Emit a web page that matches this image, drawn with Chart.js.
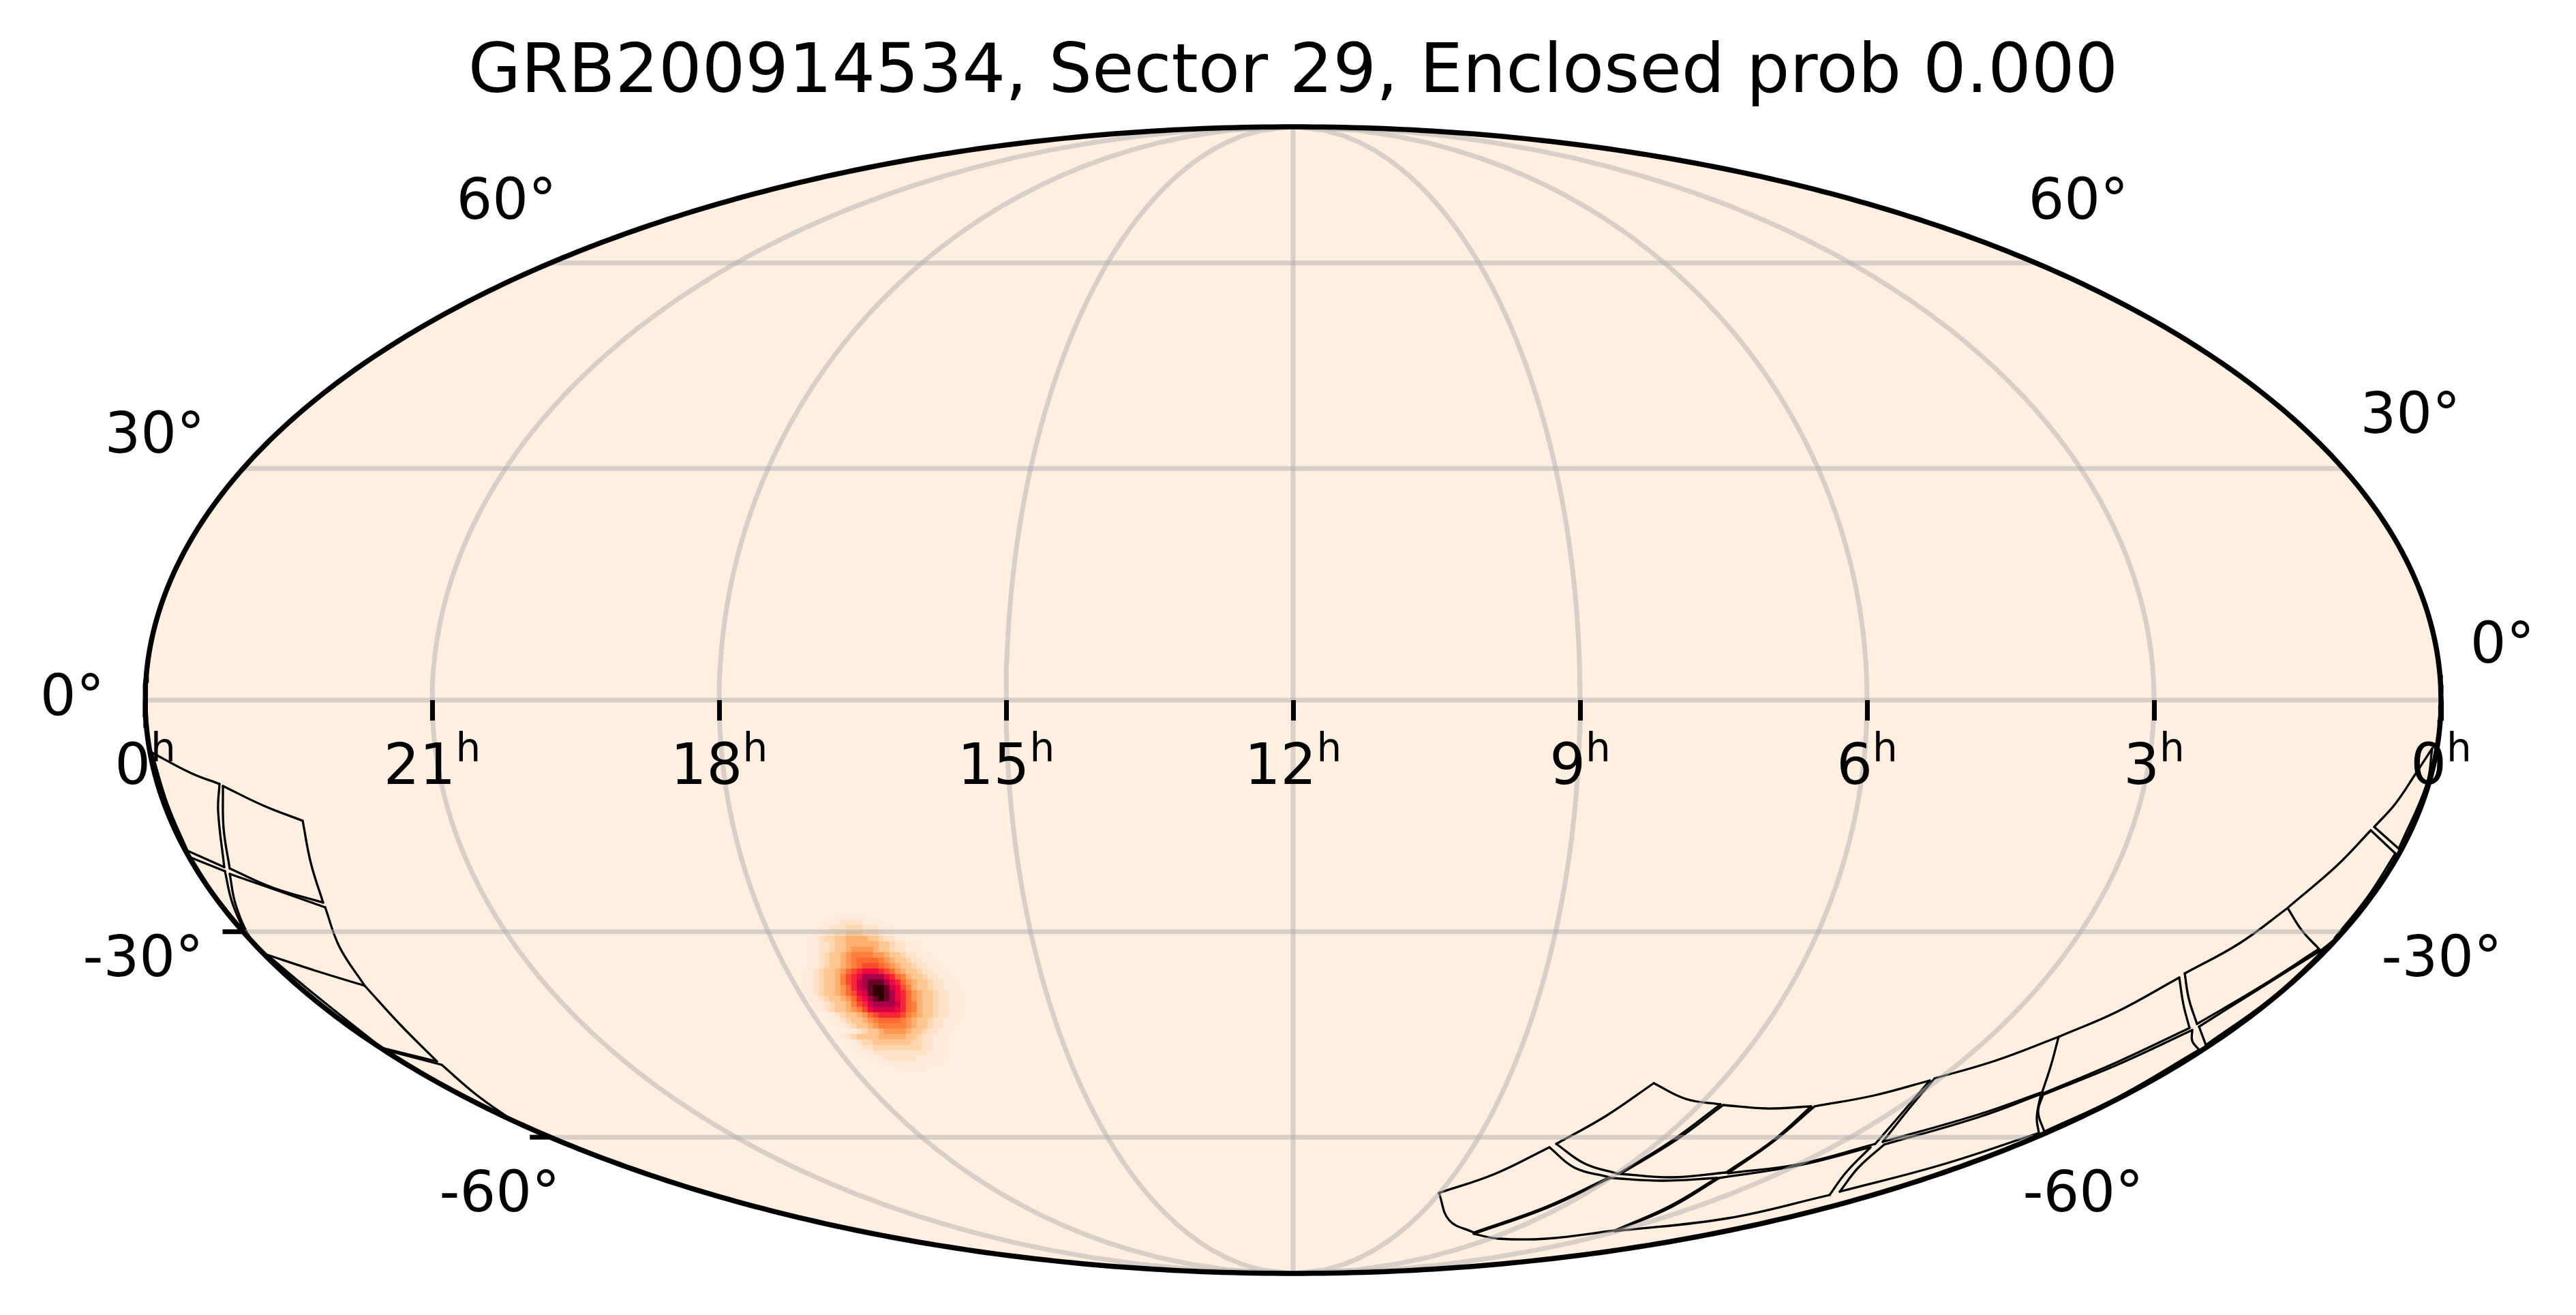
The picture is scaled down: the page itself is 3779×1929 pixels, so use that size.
<!DOCTYPE html>
<html>
<head>
<meta charset="utf-8">
<title>GRB200914534</title>
<script src="https://cdn.jsdelivr.net/npm/chart.js@4/dist/chart.umd.min.js"></script>
<style>
    html, body { margin: 0; padding: 0; background: #fff; }
    canvas { display: block; }
</style>
</head>
<body>
<canvas id="sky" width="3779" height="1929" style="width:3779px;height:1929px"></canvas>
<script>
const titleText = "GRB200914534, Sector 29, Enclosed prob 0.000";

// hour ticks on the equator, left to right
const tickHours = [24, 21, 18, 15, 12, 9, 6, 3, 0];
const hourLabels = ["0", "21", "18", "15", "12", "9", "6", "3", "0"];

// graticule
const meridianHours = [21, 18, 15, 12, 9, 6, 3];
const parallelLats = [60, 30, 0, -30, -60];
const leftTickLats = [-30, -60];

// declination labels, in plot units of the two axes
const decLabels = ["60°", "60°", "30°", "30°", "0°", "0°", "-30°", "-30°", "-60°", "-60°"];
const decLabelX = [-1154, 1152, -1670, 1639, -1791, 1774, -1687, 1685, -1164, 1159];
const decLabelY = [728, 728, 385, 414, 0, 77, -383, -383, -728, -728];

// probability map, one char per cell, index into heatColors
const heatColors = ["", "#ffebdb", "#fee3ca", "#fed7b0", "#fec690", "#feb070", "#fe9752", "#fd7f3c",
    "#fb6a30", "#f94a30", "#f82438", "#f00842", "#d30048", "#a8004a", "#6a0024", "#300000"];
const heatRows = [
    "000000000000000000000000000000000000",
    "000000000011111100000000000000000000",
    "000000001112222111100000000000000000",
    "000000011222333222111000000000000000",
    "000000112233444333211100000000000000",
    "000001123344555544322110000000000000",
    "000001122344555555443221110000000000",
    "000001122344566665443221110000000000",
    "000001123445677776654432211100000000",
    "000001123445678888765443221110000000",
    "000001123445678999876544322111000000",
    "00001123445689abbba98654432211100000",
    "0000112344579abddddba875443221110000",
    "0000112344579acdeeedba86544322111000",
    "0000112344568acdeffecb97544322111000",
    "00001123445689bceffedba8654432211100",
    "00000112344568abdefedba8654432211100",
    "000000112344579acddddca8754432211100",
    "0000001123445679bccccba8754432211100",
    "000000001123445689aaaa97654432211100",
    "00000000011234456788887654432211100",
    "00000000001123445677777654432211100",
    "00000000000011234456666544322111000",
    "00000000001123444455555443221110000",
    "00000000000011233444444433221110000",
    "00000000000001122333333333221110000",
    "00000000000000111222222222211110000",
    "00000000000000001112222221111110000",
    "00000000000000000011111111111100000",
    "00000000000000000000011111100000000",
    "000000000000000000000000000000000000"
];

// camera outlines, every edge is a short run of [x, y] in plot units
const leftCcdEdges = [
    [[-1676, -76], [-1617, -107], [-1575, -123]],
    [[-1575, -123], [-1577, -163], [-1568, -245]],
    [[-1568, -245], [-1622, -221]],
    [[-1622, -221], [-1651, -153], [-1673, -81]],

    [[-1570, -126], [-1510, -155], [-1453, -177]],
    [[-1453, -177], [-1441, -239], [-1423, -297]],
    [[-1423, -297], [-1497, -275], [-1560, -247]],
    [[-1560, -247], [-1569, -188], [-1570, -126]],

    [[-1617, -231], [-1567, -251]],
    [[-1567, -251], [-1557, -295], [-1539, -339]],
    [[-1539, -339], [-1582, -285], [-1617, -231]],

    [[-1560, -255], [-1488, -280], [-1420, -304]],
    [[-1420, -304], [-1399, -362], [-1362, -419]],
    [[-1362, -419], [-1434, -397], [-1507, -373]],
    [[-1507, -373], [-1528, -352], [-1551, -301], [-1560, -255]],

    [[-1362, -419], [-1309, -477], [-1256, -530]],
    [[-1256, -530], [-1337, -510]],
    [[-1337, -510], [-1434, -433], [-1501, -377]],

    [[-1337, -512], [-1249, -535]],
    [[-1249, -535], [-1198, -579], [-1149, -614]],
    [[-1149, -614], [-1242, -568], [-1337, -512]]
];
const rightCcdEdges = [
    [[529, -562], [576, -585], [627, -593]],
    [[627, -593], [556, -646], [477, -695]],
    [[477, -695], [428, -680], [386, -651]],
    [[386, -651], [459, -610], [529, -562]],

    [[631, -594], [694, -599], [760, -596]],
    [[760, -596], [704, -646], [635, -693]],
    [[635, -693], [556, -700], [480, -695]],
    [[480, -695], [561, -646], [631, -594]],

    [[765, -596], [852, -580], [934, -558]],
    [[934, -558], [893, -606], [854, -651]],
    [[854, -651], [740, -681], [638, -694]],
    [[638, -694], [704, -648], [765, -596]],

    [[214, -723], [296, -695], [376, -656]],
    [[376, -656], [413, -686], [464, -700]],
    [[464, -700], [372, -743], [265, -781]],
    [[265, -781], [229, -763], [214, -723]],

    [[465, -701], [541, -705], [622, -701]],
    [[622, -701], [551, -743], [472, -778]],
    [[472, -778], [372, -790], [301, -790], [265, -783]],
    [[265, -783], [372, -745], [465, -701]],

    [[625, -701], [740, -683], [847, -656]],
    [[847, -656], [811, -693], [787, -726]],
    [[787, -726], [638, -760], [472, -779]],
    [[472, -779], [556, -743], [625, -701]],

    [[941, -555], [1030, -529], [1123, -494]],
    [[1123, -494], [1112, -535], [1099, -575]],
    [[1099, -575], [1005, -608], [865, -648]],
    [[865, -648], [903, -600], [941, -555]],

    [[867, -652], [1005, -612], [1097, -578]],
    [[1097, -578], [1091, -612], [1094, -635]],
    [[1094, -635], [950, -682], [802, -721]],
    [[802, -721], [829, -686], [867, -652]],

    [[1123, -494], [1209, -457], [1300, -407]],
    [[1300, -407], [1306, -446], [1315, -481]],
    [[1315, -481], [1209, -531], [1100, -577]],

    [[1100, -579], [1209, -535], [1319, -484]],
    [[1319, -484], [1319, -500], [1329, -513]],
    [[1329, -513], [1209, -583], [1102, -633]],
    [[1102, -633], [1093, -604], [1100, -579]],

    [[1308, -401], [1388, -357], [1459, -305]],
    [[1459, -305], [1480, -338], [1505, -365]],
    [[1505, -365], [1418, -421], [1326, -475]],
    [[1326, -475], [1314, -438], [1308, -401]],

    [[1329, -479], [1418, -423], [1508, -367]],
    [[1508, -367], [1528, -351]],
    [[1528, -351], [1439, -434], [1339, -506]],
    [[1339, -506], [1329, -479]],

    [[1461, -303], [1531, -243], [1581, -191]],
    [[1581, -191], [1617, -225]],
    [[1617, -225], [1576, -289], [1528, -349]],

    [[1586, -186], [1617, -152], [1648, -106], [1671, -71]],
    [[1671, -71], [1663, -123], [1622, -218]],
    [[1622, -218], [1586, -186]]
];

// axes run in plot units, half width and half height of the ellipse
const halfW = 1684;
const halfH = 841;
const heatStep = 8;
const heatLeft = -752;
const heatTop = -306;

function molly(lonDeg, latDeg) {
    const lat = latDeg * Math.PI / 180;
    let t = lat;
    if (Math.abs(latDeg) < 90) {
        for (let i = 0; i < 30; i++) {
            t -= (2 * t + Math.sin(2 * t) - Math.PI * Math.sin(lat)) / (2 + 2 * Math.cos(2 * t));
        }
    }
    return { x: halfW * (lonDeg / 180) * Math.cos(t), y: halfH * Math.sin(t) };
}

function hourToLon(h) {
    return (12 - h) * 15;
}

function arcPoints(latFrom, latTo, lon) {
    const pts = [];
    for (let lat = latFrom; latFrom < latTo ? lat <= latTo : lat >= latTo; lat += latFrom < latTo ? 2 : -2) {
        pts.push(molly(lon, lat));
    }
    return pts;
}

function ellipseArc(sign) {
    const pts = [];
    for (let i = 0; i <= 360; i++) {
        const a = Math.PI * i / 360;
        pts.push({ x: -halfW * Math.cos(a), y: sign * halfH * Math.sin(a) });
    }
    return pts;
}

function lineSet(data, color, width, order, extra) {
    return Object.assign({
        type: "scatter", data: data, showLine: true, pointRadius: 0, borderColor: color,
        borderWidth: width, fill: false, clip: false, order: order
    }, extra || {});
}

const datasets = [];

// sky background
datasets.push(lineSet(ellipseArc(1), "rgba(0,0,0,0)", 0, 7, { fill: "+1", backgroundColor: "#ffefe1" }));
datasets.push(lineSet(ellipseArc(-1), "rgba(0,0,0,0)", 0, 7));

// probability map
const heatData = [];
const heatCellColors = [];
heatRows.forEach(function (row, j) {
    row.split("").forEach(function (ch, i) {
        const level = parseInt(ch, 16);
        if (level > 0) {
            heatData.push({ x: heatLeft + (i + 0.5) * heatStep, y: heatTop - (j + 0.5) * heatStep });
            heatCellColors.push(heatColors[level]);
        }
    });
});
datasets.push({
    type: "scatter", data: heatData, pointStyle: "rect", pointRadius: heatStep * 0.74, pointBorderWidth: 0,
    pointBackgroundColor: heatCellColors, clip: false, order: 6
});

// camera footprints
leftCcdEdges.concat(rightCcdEdges).forEach(function (edge) {
    const pts = edge.map(function (p) { return { x: p[0], y: p[1] }; });
    datasets.push(lineSet(pts, "#000", 3.3, 5, { tension: 0.4, capBezierPoints: false, borderCapStyle: "round" }));
});

// graticule
const gridColor = "rgba(176,176,176,0.5)";
meridianHours.forEach(function (h) {
    datasets.push(lineSet(arcPoints(-90, 90, hourToLon(h)), gridColor, 7, 4));
});
parallelLats.forEach(function (lat) {
    datasets.push(lineSet([molly(-180, lat), molly(180, lat)], gridColor, 7, 4));
});

// the two ticks on the left rim
leftTickLats.forEach(function (lat) {
    const p = molly(-180, lat);
    datasets.push(lineSet([{ x: p.x - 30, y: p.y }, p], "#000", 7, 3));
});

// rim
datasets.push(lineSet(ellipseArc(1).concat(ellipseArc(-1).reverse()), "#000", 7.5, 2));

const skyLabels = {
    id: "skyLabels",
    afterDraw(chart) {
        const ctx = chart.ctx;
        const xs = chart.scales.x;
        const ys = chart.scales.y;
        ctx.save();
        ctx.fillStyle = "#000";
        ctx.textBaseline = "alphabetic";
        ctx.textAlign = "left";
        tickHours.forEach(function (h, i) {
            const cx = xs.getPixelForValue(molly(hourToLon(h), 0).x);
            ctx.font = "83px 'DejaVu Sans'";
            const w = ctx.measureText(hourLabels[i]).width;
            ctx.font = "58px 'DejaVu Sans'";
            const hw = ctx.measureText("h").width;
            const left = cx - (w + hw) / 2;
            ctx.font = "83px 'DejaVu Sans'";
            ctx.fillText(hourLabels[i], left, ys.getPixelForValue(-123));
            ctx.font = "58px 'DejaVu Sans'";
            ctx.fillText("h", left + w, ys.getPixelForValue(-90));
        });
        ctx.font = "83px 'DejaVu Sans'";
        ctx.textAlign = "center";
        ctx.textBaseline = "middle";
        decLabels.forEach(function (txt, i) {
            ctx.fillText(txt, xs.getPixelForValue(decLabelX[i]), ys.getPixelForValue(decLabelY[i]));
        });
        ctx.restore();
    }
};

new Chart(document.getElementById("sky"), {
    data: { datasets: datasets },
    plugins: [skyLabels],
    options: {
        responsive: false,
        animation: false,
        events: [],
        devicePixelRatio: 1,
        layout: { padding: { left: 213, right: 198, top: 0, bottom: 61 } },
        plugins: {
            legend: { display: false },
            tooltip: { enabled: false },
            title: {
                display: true,
                text: titleText,
                color: "#000",
                font: { family: "'DejaVu Sans'", size: 100, weight: "normal" },
                padding: { top: 49, bottom: 17 }
            }
        },
        scales: {
            x: {
                type: "linear",
                min: -halfW,
                max: halfW,
                position: { y: 0 },
                afterBuildTicks(axis) {
                    axis.ticks = tickHours.map(function (h) {
                        return { value: molly(hourToLon(h), 0).x };
                    });
                },
                ticks: { display: false, autoSkip: false },
                border: { display: false },
                grid: { drawOnChartArea: false, drawTicks: true, tickLength: 30, tickWidth: 7, tickColor: "#000", z: 1 }
            },
            y: { type: "linear", min: -halfH, max: halfH, display: false }
        }
    }
});
</script>
</body>
</html>
